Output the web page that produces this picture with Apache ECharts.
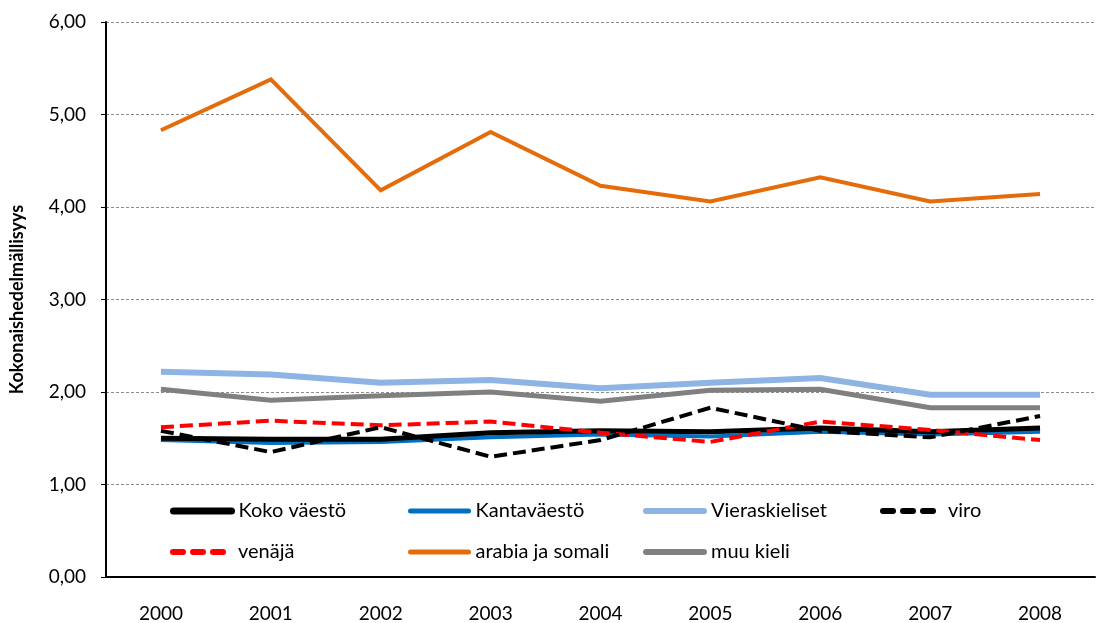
<!DOCTYPE html>
<html>
<head>
<meta charset="utf-8">
<script src="https://cdn.jsdelivr.net/npm/echarts@6/dist/echarts.min.js"></script>
<style>html,body{margin:0;padding:0;background:#fff}#c{width:1103px;height:623px}</style>
</head>
<body>
<div id="c"></div>
<script>
const years = ['2000','2001','2002','2003','2004','2005','2006','2007','2008'];
const kokoVaesto     = [1.50, 1.49, 1.49, 1.56, 1.58, 1.57, 1.61, 1.57, 1.61];
const kantaVaesto    = [1.48, 1.45, 1.46, 1.51, 1.54, 1.52, 1.57, 1.54, 1.57];
const vieraskieliset = [2.22, 2.19, 2.10, 2.13, 2.04, 2.10, 2.15, 1.97, 1.97];
const viro           = [1.58, 1.35, 1.62, 1.30, 1.48, 1.83, 1.58, 1.51, 1.74];
const venaja         = [1.62, 1.69, 1.64, 1.68, 1.56, 1.46, 1.68, 1.59, 1.48];
const arabiaSomali   = [4.83, 5.38, 4.18, 4.81, 4.23, 4.06, 4.32, 4.06, 4.14];
const muuKieli       = [2.03, 1.91, 1.96, 2.00, 1.90, 2.02, 2.03, 1.83, 1.83];
const yTicks = [0, 1, 2, 3, 4, 5, 6];

const FONT = 'Lato';
const chart = echarts.init(document.getElementById('c'));

function line(name, data, color, width, dashed, z) {
  return {
    name, type: 'line', data, symbol: 'none', z,
    lineStyle: { color, width, type: dashed ? [13, 6] : 'solid', cap: 'butt', join: 'miter' },
    itemStyle: { color }
  };
}

const legendPos = [
  ['Koko väestö', 165, 496, 7, false], ['Kantaväestö', 403, 496, 5, false],
  ['Vieraskieliset', 638, 496, 6, false], ['viro', 875, 496, 6, true],
  ['venäjä', 165, 537, 6, true], ['arabia ja somali', 403, 537, 5, false], ['muu kieli', 638, 537, 6, false]
];

chart.setOption({
  animation: false,
  textStyle: { fontFamily: FONT },
  grid: { left: 98, right: 8, top: 22, bottom: 46 },
  legend: legendPos.map(([n, x, y, w, dashed]) => ({
    data: [n], left: x, top: y, itemWidth: 58, itemHeight: 20, itemGap: 0,
    itemStyle: { opacity: 0, borderWidth: 0, color: 'rgba(0,0,0,0)' },
    lineStyle: { width: w, cap: 'round', type: dashed ? [10, 10] : 'solid' },
    textStyle: { fontFamily: FONT, fontSize: 20, color: '#000', padding: [0, 0, 0, 2] }
  })),
  xAxis: {
    type: 'category', data: years, boundaryGap: true,
    axisLine: { lineStyle: { color: '#000', width: 2 } },
    axisTick: { show: false },
    axisLabel: { color: '#000', fontSize: 19, fontFamily: FONT, margin: 27 }
  },
  yAxis: {
    type: 'value', min: yTicks[0], max: yTicks[yTicks.length - 1], interval: 1,
    name: 'Kokonaishedelmällisyys', nameLocation: 'middle', nameGap: 80, nameRotate: 90,
    nameTextStyle: { fontFamily: FONT, fontSize: 18, fontWeight: 'bold', color: '#000' },
    axisLine: { show: true, lineStyle: { color: '#000', width: 2 } },
    axisTick: { show: true, length: 5, lineStyle: { color: '#000', width: 1 } },
    axisLabel: { color: '#000', fontSize: 19, fontFamily: FONT, margin: 20,
      formatter: v => v.toFixed(2).replace('.', ',') },
    splitLine: { show: true, lineStyle: { color: '#8c8c8c', width: 1, type: [3, 2] } }
  },
  series: [
    line('Koko väestö', kokoVaesto, '#000000', 5, false, 4),
    line('Kantaväestö', kantaVaesto, '#0070C0', 4, false, 3),
    line('Vieraskieliset', vieraskieliset, '#8EB4E3', 6, false, 2),
    line('viro', viro, '#000000', 4, true, 6),
    line('venäjä', venaja, '#FF0000', 4, true, 5),
    line('arabia ja somali', arabiaSomali, '#E46C0A', 4, false, 2),
    line('muu kieli', muuKieli, '#808080', 5, false, 2)
  ]
});
</script>
</body>
</html>
